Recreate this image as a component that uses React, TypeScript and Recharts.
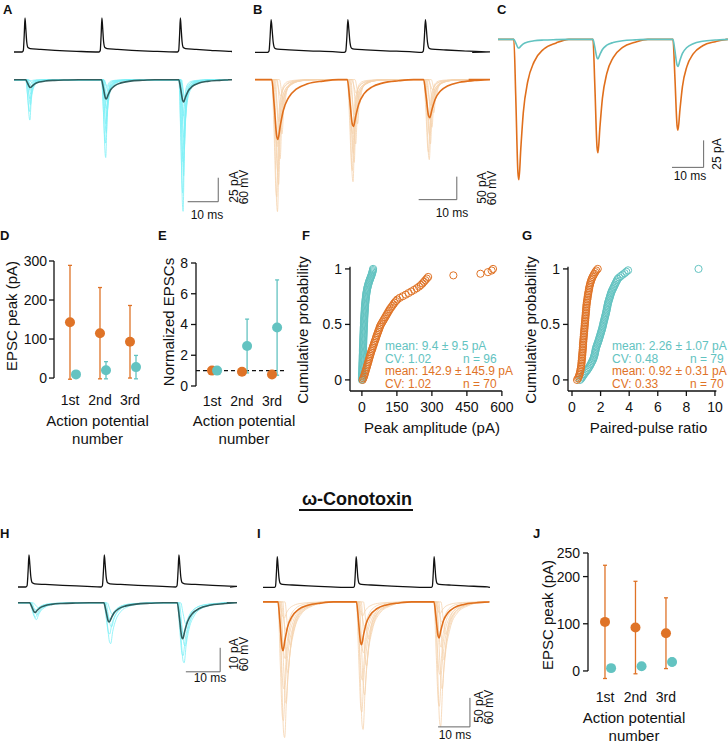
import React from 'react';
import { LineChart, Line, ScatterChart, Scatter, XAxis, YAxis, ReferenceLine, ErrorBar } from 'recharts';

const ORANGE = '#df7327';
const TEAL = '#63c3c1';
const SWEEP_CYAN = '#7ef0f6';
const MEAN_DARK = '#2f5e5e';
const SWEEP_PEACH = '#f5d3ae';
const MEAN_ORANGE = '#e06f1c';
const INK = '#111';
const BAR = '#666';
const FONT = '"Liberation Sans", Arial, Helvetica, sans-serif';

// event shapes: [ms after the AP peak, fraction of the peak]
const AP_SHAPE = [[-0.6, 0], [-0.2, 0.04], [0.1, 0.5], [0.35, 1], [0.6, 0.7], [0.9, 0.3], [1.3, 0.13], [2, 0.1], [5, 0.08], [10, 0.05], [17, 0.02]];
const EPSC_FAST = [[0.6, 0], [1.2, 0.45], [1.7, 0.95], [1.9, 1], [2.3, 0.55], [2.9, 0.25], [3.8, 0.11], [5.5, 0.04], [8, 0.01], [12, 0]];
const EPSC_MID = [[0.6, 0], [1.3, 0.5], [2.0, 0.97], [2.3, 1], [2.9, 0.7], [3.8, 0.42], [5.2, 0.22], [7.5, 0.09], [11, 0.03], [16, 0]];
const EPSC_MEAN = [[0.6, 0], [1.2, 0.4], [1.9, 0.95], [2.2, 1], [2.8, 0.78], [3.6, 0.52], [5, 0.3], [7, 0.16], [10, 0.07], [14, 0.025], [18, 0]];
const V_REST = -65;

// A: control, low-release synapse (pA)
const A_SPIKES = [3.2, 28, 53.3];
const A_AP = [85, 85, 85];
const A_MEAN = [8, 20, 23];
const A_SWEEPS = [[42, 81, 137], [33, 66, 118], [26, 55, 100], [20, 46, 86], [15, 38, 72], [11, 30, 60], [8, 24, 48], [5, 17, 38], [3, 12, 28], [1, 7, 18]];
const A_LAGS = [0.1, 0, 0.3, 0.2, 0.5, 0.4, 0.7, 0.3, 0.9, 0.6];

// B: high-release synapse
const B_SPIKES = [3.8, 23.6, 43.6];
const B_AP = [86, 86, 86];
const B_MEAN = [130, 102, 83];
const B_SWEEPS = [[287, 222, 174], [255, 198, 158], [228, 180, 140], [200, 160, 120], [172, 140, 104], [146, 118, 88], [118, 96, 72], [92, 76, 56], [64, 52, 40], [36, 30, 22]];
const B_LAGS = [0.2, 0, 0.5, 0.3, 0.9, 0.1, 1.4, 0.6, 2.0, 1.1];

// C: averages overlaid
const C_SPIKES = [4.4, 29.4, 54.7];
const C_ORANGE = [130, 105, 84];
const C_TEAL = [8, 18, 25];

// H, I: omega-conotoxin
const H_SPIKES = [2.8, 24.4, 45.8];
const H_AP = [80, 80, 80];
const H_MEAN = [4, 8, 15];
const H_SWEEPS = [[7, 17, 25], [6, 13, 22], [5, 10, 18], [3, 7, 13], [2, 5, 9]];
const H_LAGS = [0.3, 0, 0.6, 0.2, 1.0];

const I_SPIKES = [4.1, 28.75, 53.1];
const I_AP = [64, 64, 64];
const I_MEAN = [84, 74, 62];
const I_SWEEPS = [[234, 220, 215], [205, 190, 180], [175, 160, 150], [150, 135, 125], [122, 110, 100], [98, 88, 78], [74, 64, 56], [50, 42, 36], [28, 24, 20]];
const I_LAGS = [0.4, 0, 0.9, 0.2, 1.5, 0.6, 2.2, 1.0, 0.3];

// D, E, J: mean ± SD
const AP_LABELS = ['1st', '2nd', '3rd'];
const D_ORANGE = [142.9, 115, 93];
const D_ORANGE_SD = [145.9, 117, 93];
const D_TEAL = [9.4, 20, 28];
const D_TEAL_SD = [9.5, 22, 30];
const E_ORANGE = [1.0, 0.93, 0.75];
const E_ORANGE_SD = [0, 0.15, 0.2];
const E_TEAL = [1.0, 2.6, 3.8];
const E_TEAL_SD = [0, 1.75, 3.1];
const J_ORANGE = [104, 92, 80];
const J_ORANGE_SD = [120, 98, 75];
const J_TEAL = [6, 10, 19];
const J_TEAL_SD = [5, 6, 8];

// F, G: sorted values for cumulative plots
const F_TEAL = [0.2, 0.4, 0.6, 0.8, 1.0, 1.1, 1.3, 1.5, 1.6, 1.8, 2.0, 2.1, 2.3, 2.5, 2.6, 2.8, 3.0, 3.1, 3.3, 3.5,
  3.6, 3.8, 4.0, 4.1, 4.3, 4.5, 4.7, 4.8, 5.0, 5.2, 5.4, 5.5, 5.7, 5.9, 6.1, 6.3, 6.4, 6.6, 6.8, 7.0,
  7.2, 7.4, 7.6, 7.8, 8.0, 8.2, 8.4, 8.7, 8.9, 9.1, 9.4, 9.6, 9.9, 10.2, 10.4, 10.7, 11.0, 11.3, 11.6, 12.0,
  12.3, 12.7, 13.0, 13.4, 13.8, 14.2, 14.7, 15.1, 15.6, 16.1, 16.7, 17.2, 17.8, 18.5, 19.2, 20.0, 20.8, 21.7, 22.7, 23.8,
  25.0, 26.3, 27.7, 29.2, 30.8, 32.5, 34.3, 36.2, 38.1, 40.0, 41.8, 43.4, 44.8, 46.0, 47.1, 48.0];
const F_ORANGE = [3, 6, 9, 11, 13, 15, 17, 19, 21, 23, 25, 27, 29, 31, 33, 35, 37, 39, 41, 44,
  46, 48, 51, 53, 55, 58, 60, 62, 65, 67, 70, 72, 75, 77, 80, 84, 88, 92, 96, 100,
  104, 108, 112, 116, 120, 125, 130, 135, 140, 146, 152, 162, 175, 188, 200, 212, 224, 235, 245, 253,
  260, 266, 272, 278, 284, 392, 508, 540, 556, 562];
const G_TEAL = [0.56, 0.65, 0.72, 0.78, 0.85, 0.92, 1.0, 1.08, 1.14, 1.2, 1.26, 1.31, 1.36, 1.41, 1.46, 1.5,
  1.53, 1.56, 1.59, 1.61, 1.63, 1.65, 1.67, 1.7, 1.73, 1.77, 1.8, 1.84, 1.87, 1.9, 1.93, 1.96,
  1.99, 2.02, 2.05, 2.08, 2.11, 2.13, 2.16, 2.18, 2.2, 2.23, 2.25, 2.28, 2.3, 2.33, 2.35, 2.38,
  2.4, 2.42, 2.44, 2.46, 2.48, 2.5, 2.52, 2.55, 2.58, 2.61, 2.64, 2.67, 2.7, 2.73, 2.77, 2.81,
  2.86, 2.91, 2.96, 3.0, 3.05, 3.1, 3.15, 3.2, 3.3, 3.42, 3.55, 3.68, 3.8, 3.92, 8.85];
const G_ORANGE = [0.35, 0.42, 0.47, 0.51, 0.54, 0.57, 0.59, 0.61, 0.63, 0.65, 0.66, 0.67, 0.68, 0.69, 0.7, 0.71, 0.72, 0.73, 0.74, 0.75,
  0.76, 0.77, 0.77, 0.78, 0.79, 0.8, 0.81, 0.82, 0.83, 0.84, 0.85, 0.86, 0.87, 0.88, 0.89, 0.9, 0.91, 0.92, 0.93, 0.94,
  0.95, 0.96, 0.97, 0.98, 0.99, 1.0, 1.01, 1.02, 1.04, 1.05, 1.07, 1.09, 1.1, 1.12, 1.14, 1.16, 1.18, 1.2, 1.22, 1.25,
  1.28, 1.31, 1.35, 1.39, 1.44, 1.5, 1.56, 1.63, 1.7, 1.8];

type Pt = { t: number; v: number };

function buildTrace(spikes: number[], amps: number[], shape: number[][], tEnd: number, lag = 0, base = 0, sign = -1): Pt[] {
  const pts: Pt[] = [{ t: 0, v: base }];
  spikes.forEach((s, k) => {
    shape.forEach(([dt, f]) => pts.push({ t: s + lag + dt, v: base + sign * amps[k] * f }));
  });
  pts.push({ t: tEnd, v: base });
  return pts;
}

const voltage = (spikes: number[], amps: number[], tEnd: number) => buildTrace(spikes, amps, AP_SHAPE, tEnd, 0, V_REST, 1);

type Series = { data: Pt[]; color: string; width: number };
type Bar = { t0: number; t1: number; y0: number; y1: number };

function TracePlot({ left, top, width, height, xMax, yDomain, series, bar }: { left: number; top: number; width: number; height: number; xMax: number; yDomain: number[]; series: Series[]; bar?: Bar }) {
  return (
    <div style={{ position: 'absolute', left, top }}>
      <LineChart width={width} height={height} margin={{ top: 0, right: 0, bottom: 0, left: 0 }}>
        <XAxis type="number" dataKey="t" domain={[0, xMax]} hide />
        <YAxis type="number" domain={yDomain} hide />
        {series.map((s, i) => (
          <Line key={i} data={s.data} dataKey="v" type="monotone" stroke={s.color} strokeWidth={s.width} dot={false} activeDot={false} isAnimationActive={false} />
        ))}
        {bar && <ReferenceLine segment={[{ x: bar.t0, y: bar.y0 }, { x: bar.t1, y: bar.y0 }]} stroke={BAR} strokeWidth={1} ifOverflow="visible" />}
        {bar && <ReferenceLine segment={[{ x: bar.t1, y: bar.y0 }, { x: bar.t1, y: bar.y1 }]} stroke={BAR} strokeWidth={1} ifOverflow="visible" />}
      </LineChart>
    </div>
  );
}

const sweeps = (list: number[][], lags: number[], spikes: number[], shape: number[][], tEnd: number, color: string): Series[] =>
  list.map((amps, i) => ({ data: buildTrace(spikes, amps, shape, tEnd, lags[i]), color, width: 0.8 }));

const dot = (color: string) => (p: any) => <circle cx={p.cx} cy={p.cy} r={5} fill={color} />;
const ring = (color: string) => (p: any) => <circle cx={p.cx} cy={p.cy} r={3.6} fill="none" stroke={color} strokeWidth={1} />;

const tickStyle = { fill: INK, fontSize: 14 };
const axisStroke = { stroke: INK, strokeWidth: 1.3 };

function PeakPanel(props: {
  left: number; top: number; yWidth: number; mTop: number; plotW: number; plotH: number;
  xDomain: number[]; yDomain: number[]; yTicks: number[]; yTickMargin: number; xTickMargin: number;
  orange: number[]; orangeSd: number[]; teal: number[]; tealSd: number[]; tealShift: number; refY?: number;
}) {
  const p = props;
  const orangeRows = p.orange.map((y, i) => ({ x: i + 1, y, e: p.orangeSd[i] }));
  const tealRows = p.teal.map((y, i) => ({ x: i + 1 + p.tealShift, y, e: p.tealSd[i] }));
  const yTop = p.yTicks[p.yTicks.length - 1];
  return (
    <div style={{ position: 'absolute', left: p.left, top: p.top }}>
      <ScatterChart width={p.yWidth + p.plotW + 4} height={p.mTop + p.plotH + 40} margin={{ top: p.mTop, right: 4, bottom: 10, left: 0 }}>
        <XAxis type="number" dataKey="x" domain={p.xDomain} ticks={[1, 2, 3]} interval={0} tickFormatter={(v: number) => AP_LABELS[Math.round(v) - 1]}
          axisLine={false} tickLine={false} tickSize={5} tickMargin={p.xTickMargin} height={30} tick={tickStyle} allowDataOverflow />
        <YAxis type="number" dataKey="y" domain={p.yDomain} ticks={p.yTicks} interval={0} width={p.yWidth} axisLine={false}
          tickLine={axisStroke} tickSize={5} tickMargin={p.yTickMargin} tick={tickStyle} allowDataOverflow />
        <ReferenceLine segment={[{ x: p.xDomain[0], y: 0 }, { x: p.xDomain[0], y: yTop }]} stroke={INK} strokeWidth={1.3} ifOverflow="visible" />
        {p.refY !== undefined && <ReferenceLine y={p.refY} stroke={INK} strokeWidth={1.2} strokeDasharray="4 3" />}
        <Scatter data={orangeRows} fill={ORANGE} shape={dot(ORANGE)} isAnimationActive={false}>
          <ErrorBar dataKey="e" direction="y" width={2} stroke={ORANGE} strokeWidth={1.3} />
        </Scatter>
        <Scatter data={tealRows} fill={TEAL} shape={dot(TEAL)} isAnimationActive={false}>
          <ErrorBar dataKey="e" direction="y" width={2} stroke={TEAL} strokeWidth={1.3} />
        </Scatter>
      </ScatterChart>
    </div>
  );
}

const cdf = (vals: number[]) => vals.map((x, i) => ({ x, y: i / (vals.length - 1) }));

function CdfPanel({ left, xDomain, xTicks, plotW, teal, orange }: { left: number; xDomain: number[]; xTicks: number[]; plotW: number; teal: number[]; orange: number[] }) {
  return (
    <div style={{ position: 'absolute', left, top: 254 }}>
      <ScatterChart width={40 + plotW + 18} height={12.7 + 124.3 + 40} margin={{ top: 12.7, right: 18, bottom: 10, left: 0 }}>
        <XAxis type="number" dataKey="x" domain={xDomain} ticks={xTicks} interval={0} axisLine={axisStroke} tickLine={axisStroke}
          tickSize={5} tickMargin={6} height={30} tick={tickStyle} />
        <YAxis type="number" dataKey="y" domain={[-0.1, 1.02]} ticks={[0, 0.5, 1]} interval={0} width={40} axisLine={axisStroke}
          tickLine={axisStroke} tickSize={5} tickMargin={3} tick={tickStyle} />
        <Scatter data={cdf(teal)} shape={ring(TEAL)} isAnimationActive={false} />
        <Scatter data={cdf(orange)} shape={ring(ORANGE)} isAnimationActive={false} />
      </ScatterChart>
    </div>
  );
}

function T({ x, y, s = 15, c = INK, b = false, rot = false, start = false, children }: { x: number; y: number; s?: number; c?: string; b?: boolean; rot?: boolean; start?: boolean; children: React.ReactNode }) {
  const tf = `translate(${start ? '0' : '-50%'},-50%)${rot ? ' rotate(-90deg)' : ''}`;
  return (
    <div style={{ position: 'absolute', left: x, top: y, fontSize: s, color: c, fontWeight: b ? 700 : 400, lineHeight: 1, whiteSpace: 'nowrap', transform: tf }}>
      {children}
    </div>
  );
}

export default function App() {
  return (
    <div style={{ position: 'absolute', left: 0, top: 0, width: 728, height: 742, background: '#fff', overflow: 'hidden', fontFamily: FONT, color: INK }}>
      {/* A */}
      <TracePlot left={14} top={16} width={218} height={38} xMax={70} yDomain={[-70, 25]}
        series={[{ data: voltage(A_SPIKES, A_AP, 70), color: INK, width: 1.3 }]} />
      <TracePlot left={14} top={75.2} width={218} height={144} xMax={70} yDomain={[-145, 5]}
        series={[...sweeps(A_SWEEPS, A_LAGS, A_SPIKES, EPSC_FAST, 70, SWEEP_CYAN), { data: buildTrace(A_SPIKES, A_MEAN, EPSC_MEAN, 70), color: MEAN_DARK, width: 1.6 }]}
        bar={{ t0: 56.8, t1: 66.8, y0: -127, y1: -102 }} />
      {/* B */}
      <TracePlot left={255} top={17.5} width={235} height={36.4} xMax={56} yDomain={[-70, 25]}
        series={[{ data: voltage(B_SPIKES, B_AP, 56), color: INK, width: 1.3 }]} />
      <TracePlot left={255} top={75.4} width={235} height={142.6} xMax={56} yDomain={[-300, 10]}
        series={[...sweeps(B_SWEEPS, B_LAGS, B_SPIKES, EPSC_FAST, 56, SWEEP_PEACH), { data: buildTrace(B_SPIKES, B_MEAN, EPSC_MEAN, 56), color: MEAN_ORANGE, width: 1.6 }]}
        bar={{ t0: 42.9, t1: 52.9, y0: -261, y1: -211 }} />
      {/* C */}
      <TracePlot left={498} top={33.6} width={230} height={151.2} xMax={71.9} yDomain={[-135, 5]}
        series={[{ data: buildTrace(C_SPIKES, C_ORANGE, EPSC_MEAN, 71.9), color: MEAN_ORANGE, width: 1.6 },
          { data: buildTrace(C_SPIKES, C_TEAL, EPSC_MEAN, 71.9), color: TEAL, width: 1.6 }]}
        bar={{ t0: 55, t1: 65, y0: -118.5, y1: -93.5 }} />
      {/* H */}
      <TracePlot left={18} top={551} width={219} height={38} xMax={60.8} yDomain={[-70, 25]}
        series={[{ data: voltage(H_SPIKES, H_AP, 60.8), color: INK, width: 1.3 }]} />
      <TracePlot left={18} top={598.2} width={219} height={76.8} xMax={60.8} yDomain={[-30, 2]}
        series={[...sweeps(H_SWEEPS, H_LAGS, H_SPIKES, EPSC_MID, 60.8, SWEEP_CYAN), { data: buildTrace(H_SPIKES, H_MEAN, EPSC_MEAN, 60.8), color: MEAN_DARK, width: 1.6 }]}
        bar={{ t0: 48.9, t1: 58.9, y0: -28.75, y1: -18.75 }} />
      {/* I */}
      <TracePlot left={263} top={543.5} width={227} height={45.9} xMax={70.9} yDomain={[-70, 25]}
        series={[{ data: voltage(I_SPIKES, I_AP, 70.9), color: INK, width: 1.3 }]} />
      <TracePlot left={263} top={599.1} width={227} height={142.1} xMax={70.9} yDomain={[-240, 5]}
        series={[...sweeps(I_SWEEPS, I_LAGS, I_SPIKES, EPSC_MID, 70.9, SWEEP_PEACH), { data: buildTrace(I_SPIKES, I_MEAN, EPSC_MEAN, 70.9), color: MEAN_ORANGE, width: 1.6 }]}
        bar={{ t0: 55, t1: 65, y0: -215.5, y1: -165.5 }} />

      {/* D, E, J */}
      <PeakPanel left={0} top={249} yWidth={54} mTop={12} plotW={91} plotH={119} xDomain={[0.467, 3.5]} yDomain={[-5, 300]}
        yTicks={[0, 100, 200, 300]} yTickMargin={2} xTickMargin={10}
        orange={D_ORANGE} orangeSd={D_ORANGE_SD} teal={D_TEAL} tealSd={D_TEAL_SD} tealShift={0.2} />
      <PeakPanel left={156} top={251} yWidth={40} mTop={12} plotW={90.1} plotH={123} xDomain={[0.467, 3.47]} yDomain={[0, 8]}
        yTicks={[0, 2, 4, 6, 8]} yTickMargin={3} xTickMargin={5}
        orange={E_ORANGE} orangeSd={E_ORANGE_SD} teal={E_TEAL} tealSd={E_TEAL_SD} tealShift={0.17} refY={1} />
      <PeakPanel left={548} top={541} yWidth={40} mTop={12} plotW={92} plotH={127.4} xDomain={[0.443, 3.46]} yDomain={[-20, 250]}
        yTicks={[0, 100, 200, 250]} yTickMargin={3} xTickMargin={6.6}
        orange={J_ORANGE} orangeSd={J_ORANGE_SD} teal={J_TEAL} tealSd={J_TEAL_SD} tealShift={0.2} />

      {/* F, G */}
      <CdfPanel left={310} xDomain={[-51, 600]} xTicks={[0, 150, 300, 450, 600]} plotW={151.9} teal={F_TEAL} orange={F_ORANGE} />
      <CdfPanel left={528} xDomain={[-0.28, 10.1]} xTicks={[0, 2, 4, 6, 8, 10]} plotW={148.4} teal={G_TEAL} orange={G_ORANGE} />

      {/* panel letters */}
      <T x={3} y={8.5} s={13} b start>A</T>
      <T x={253} y={8.5} s={13} b start>B</T>
      <T x={497} y={8.5} s={13} b start>C</T>
      <T x={0} y={234.5} s={13} b start>D</T>
      <T x={158} y={234.5} s={13} b start>E</T>
      <T x={302} y={234.5} s={13} b start>F</T>
      <T x={522} y={234.5} s={13} b start>G</T>
      <T x={0} y={532.5} s={13} b start>H</T>
      <T x={257} y={532.5} s={13} b start>I</T>
      <T x={533} y={533} s={13} b start>J</T>

      {/* scale bar labels */}
      <T x={207} y={215} s={12}>10 ms</T>
      <T x={234} y={187} s={12} rot>25 pA</T>
      <T x={244} y={187} s={12} rot>60 mV</T>
      <T x={452} y={212.5} s={12}>10 ms</T>
      <T x={482} y={188} s={12} rot>50 pA</T>
      <T x={492} y={188} s={12} rot>60 mV</T>
      <T x={690} y={176} s={12}>10 ms</T>
      <T x={717} y={154} s={12} rot>25 pA</T>
      <T x={210} y={678} s={12}>10 ms</T>
      <T x={234} y={654} s={12} rot>10 pA</T>
      <T x={244} y={654} s={12} rot>60 mV</T>
      <T x={455} y={734.5} s={12}>10 ms</T>
      <T x={479} y={707} s={12} rot>50 pA</T>
      <T x={489} y={707} s={12} rot>60 mV</T>

      {/* axis titles */}
      <T x={11} y={316} rot>EPSC peak (pA)</T>
      <T x={97.5} y={420}>Action potential</T>
      <T x={97.5} y={438}>number</T>
      <T x={168} y={322} rot>Normalized EPSCs</T>
      <T x={244} y={420}>Action potential</T>
      <T x={244} y={438}>number</T>
      <T x={302} y={330} rot>Cumulative probability</T>
      <T x={432} y={427}>Peak amplitude (pA)</T>
      <T x={530} y={330} rot>Cumulative probability</T>
      <T x={648.5} y={427}>Paired-pulse ratio</T>
      <T x={547} y={615} rot>EPSC peak (pA)</T>
      <T x={634} y={717}>Action potential</T>
      <T x={634} y={735}>number</T>

      {/* stats */}
      <T x={385} y={346} s={12} c={TEAL} start>mean: 9.4 ± 9.5 pA</T>
      <T x={385} y={358.5} s={12} c={TEAL} start>CV: 1.02</T>
      <T x={463} y={358.5} s={12} c={TEAL} start>n = 96</T>
      <T x={385} y={371} s={12} c={ORANGE} start>mean: 142.9 ± 145.9 pA</T>
      <T x={385} y={383.5} s={12} c={ORANGE} start>CV: 1.02</T>
      <T x={463} y={383.5} s={12} c={ORANGE} start>n = 70</T>
      <T x={612} y={346} s={12} c={TEAL} start>mean: 2.26 ± 1.07 pA</T>
      <T x={612} y={358.5} s={12} c={TEAL} start>CV: 0.48</T>
      <T x={690} y={358.5} s={12} c={TEAL} start>n = 79</T>
      <T x={612} y={371} s={12} c={ORANGE} start>mean: 0.92 ± 0.31 pA</T>
      <T x={612} y={383.5} s={12} c={ORANGE} start>CV: 0.33</T>
      <T x={690} y={383.5} s={12} c={ORANGE} start>n = 70</T>

      {/* section title */}
      <T x={357} y={499} s={18} b>ω-Conotoxin</T>
      <div style={{ position: 'absolute', left: 299, top: 509, width: 114, height: 1.5, background: INK }} />
    </div>
  );
}
